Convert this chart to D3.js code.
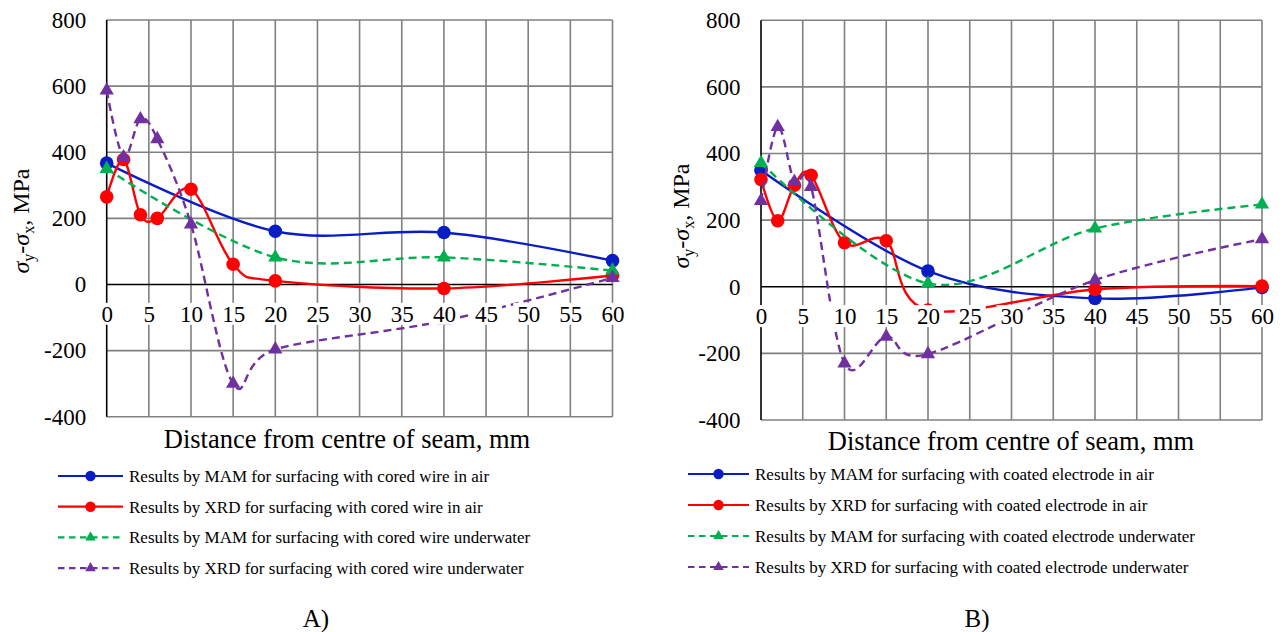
<!DOCTYPE html>
<html>
<head>
<meta charset="utf-8">
<script src="https://cdn.jsdelivr.net/npm/d3@7"></script>
<style>
  html, body { margin: 0; padding: 0; background: #fff; }
  svg { display: block; font-family: "Liberation Serif", "Times New Roman", serif; }
</style>
</head>
<body>
<svg id="chart" width="1287" height="632"></svg>
<script>
// ---- data ----
const xTicks = [0, 5, 10, 15, 20, 25, 30, 35, 40, 45, 50, 55, 60];
const yTicks = [-400, -200, 0, 200, 400, 600, 800];

// panel A: cored wire
const mamAirA   = [[0, 367], [20, 161], [40, 157], [60, 72]];
const xrdAirA   = [[0, 265], [2, 378], [4, 211], [6, 200], [10, 288], [15, 61], [20, 11], [40, -12], [60, 27]];
const mamWaterA = [[0, 350], [20, 82], [40, 82], [60, 42]];
const xrdWaterA = [[0, 587], [2, 385], [4, 500], [6, 440], [10, 182], [15, -300], [20, -196], [40, -110], [60, 20]];

// panel B: coated electrode
const mamAirB   = [[0, 350], [20, 47], [40, -35], [60, -2]];
const xrdAirB   = [[0, 322], [2, 198], [4, 305], [6, 335], [10, 132], [15, 138], [20, -70], [40, -8], [60, 2]];
const mamWaterB = [[0, 372], [20, 10], [40, 175], [60, 247]];
const xrdWaterB = [[0, 258], [2, 480], [4, 315], [6, 300], [10, -230], [15, -150], [20, -202], [40, 20], [60, 143]];

const namesA = [
  'Results by MAM for surfacing with cored wire in air',
  'Results by XRD for surfacing with cored wire in air',
  'Results by MAM for surfacing with cored wire underwater',
  'Results by XRD for surfacing with cored wire underwater'
];
const namesB = [
  'Results by MAM for surfacing with coated electrode in air',
  'Results by XRD for surfacing with coated electrode in air',
  'Results by MAM for surfacing with coated electrode underwater',
  'Results by XRD for surfacing with coated electrode underwater'
];

// series styles, same order in both panels
const styles = [
  {color: '#0a1cc4', dash: null, marker: 'circle'},
  {color: '#ff0000', dash: null, marker: 'circle'},
  {color: '#00b050', dash: '8,5', marker: 'triangle'},
  {color: '#7030a0', dash: '8,5', marker: 'triangle'}
];

const svg = d3.select('#chart');
const serif = '"Liberation Serif", "Times New Roman", serif';

function marker(sel, type, color, big) {
  if (type === 'circle') {
    return sel.append('circle').attr('r', big ? 6.8 : 5.2).attr('fill', color);
  }
  return sel.append('path')
    .attr('d', d3.symbol().type(d3.symbolTriangle).size(big ? 88 : 48)())
    .attr('fill', color);
}

function drawPanel(cfg) {
  const g = svg.append('g');
  const x = d3.scaleLinear().domain([0, 60]).range([cfg.left, cfg.right]);
  const y = d3.scaleLinear().domain([-400, 800]).range([cfg.bottom, cfg.top]);

  // grid
  g.append('g').selectAll('line').data(xTicks.filter(d => d !== 0)).join('line')
    .attr('x1', d => x(d)).attr('x2', d => x(d))
    .attr('y1', y(-400)).attr('y2', y(800))
    .attr('stroke', '#808080').attr('stroke-width', 1.6);
  g.append('g').selectAll('line').data(yTicks.filter(d => d !== 0)).join('line')
    .attr('x1', x(0)).attr('x2', x(60))
    .attr('y1', d => y(d)).attr('y2', d => y(d))
    .attr('stroke', '#808080').attr('stroke-width', 1.6);

  // axis lines
  g.append('line').attr('x1', x(0)).attr('x2', x(0)).attr('y1', y(800)).attr('y2', y(-400))
    .attr('stroke', '#000').attr('stroke-width', 1.6);
  g.append('line').attr('x1', x(0)).attr('x2', x(60)).attr('y1', y(0)).attr('y2', y(0))
    .attr('stroke', '#000').attr('stroke-width', 1.6);

  // series (smoothed like the spreadsheet)
  const line = d3.line().x(d => x(d[0])).y(d => y(d[1])).curve(d3.curveCardinal.tension(0));
  cfg.series.forEach((data, i) => {
    const st = styles[i];
    g.append('path').datum(data).attr('d', line)
      .attr('fill', 'none').attr('stroke', st.color).attr('stroke-width', 2.4)
      .attr('stroke-dasharray', st.dash);
    data.forEach(d => {
      const m = g.append('g').attr('transform', `translate(${x(d[0])},${y(d[1])})`);
      marker(m, st.marker, st.color, true);
    });
  });

  // y axis labels (plain hyphen for negatives)
  const ya = g.append('g').attr('transform', `translate(${x(0)},0)`)
    .call(d3.axisLeft(y).tickValues(yTicks).tickFormat(d => String(d)).tickSize(0).tickPadding(20.5));
  ya.attr('font-family', serif).attr('font-size', 23);
  ya.select('.domain').remove();
  ya.selectAll('text').attr('fill', '#000');

  // x axis labels, on white boxes that hide lines behind them
  const xa = g.append('g').attr('transform', `translate(0,${y(0)})`)
    .call(d3.axisBottom(x).tickValues(xTicks).tickFormat(d => String(d)).tickSize(0).tickPadding(21));
  xa.attr('font-family', serif).attr('font-size', 23);
  xa.select('.domain').remove();
  xa.selectAll('text').attr('fill', '#000');
  xa.selectAll('.tick').each(function() {
    const t = d3.select(this).select('text');
    const b = t.node().getBBox();
    d3.select(this).insert('rect', 'text')
      .attr('x', b.x - 4).attr('y', b.y + 1)
      .attr('width', b.width + 8).attr('height', b.height - 3)
      .attr('fill', '#fff');
  });

  // axis titles
  svg.append('text').attr('x', cfg.xTitleX).attr('y', cfg.xTitleY)
    .attr('text-anchor', 'middle').attr('font-size', 26.5)
    .text('Distance from centre of seam, mm');

  const yt = svg.append('text')
    .attr('transform', `translate(${cfg.yTitleX},${cfg.yTitleY}) rotate(-90)`)
    .attr('text-anchor', 'middle').attr('font-size', 24);
  yt.append('tspan').attr('font-style', 'italic').text('σ');
  yt.append('tspan').attr('font-size', 16).attr('dy', 5).text('y');
  yt.append('tspan').attr('dy', -5).text('-');
  yt.append('tspan').attr('font-style', 'italic').text('σ');
  yt.append('tspan').attr('font-size', 16).attr('dy', 5).text('x');
  yt.append('tspan').attr('dy', -5).text(', MPa');

  // legend
  cfg.names.forEach((name, i) => {
    const st = styles[i];
    const cy = cfg.legY + i * cfg.legStep;
    svg.append('line').attr('x1', cfg.legX0).attr('x2', cfg.legX1).attr('y1', cy).attr('y2', cy)
      .attr('stroke', st.color).attr('stroke-width', 2.2)
      .attr('stroke-dasharray', st.dash ? '6.5,4.5' : null);
    const m = svg.append('g').attr('transform', `translate(${(cfg.legX0 + cfg.legX1) / 2},${cy})`);
    marker(m, st.marker, st.color, false);
    svg.append('text').attr('x', cfg.legX1 + 6).attr('y', cy + 5.8)
      .attr('font-size', 17).text(name);
  });

  svg.append('text').attr('x', cfg.tagX).attr('y', 627)
    .attr('text-anchor', 'middle').attr('font-size', 25).text(cfg.tag);
}

drawPanel({
  left: 106.7, right: 612.5, top: 20, bottom: 416.7,
  series: [mamAirA, xrdAirA, mamWaterA, xrdWaterA], names: namesA,
  xTitleX: 347, xTitleY: 448, yTitleX: 29, yTitleY: 221,
  legX0: 58, legX1: 123, legY: 476, legStep: 30.7, tag: 'A)', tagX: 316
});
drawPanel({
  left: 761, right: 1262, top: 20.3, bottom: 420,
  series: [mamAirB, xrdAirB, mamWaterB, xrdWaterB], names: namesB,
  xTitleX: 1011, xTitleY: 449.5, yTitleX: 689, yTitleY: 216,
  legX0: 688, legX1: 749, legY: 474, legStep: 31, tag: 'B)', tagX: 977
});
</script>
</body>
</html>
